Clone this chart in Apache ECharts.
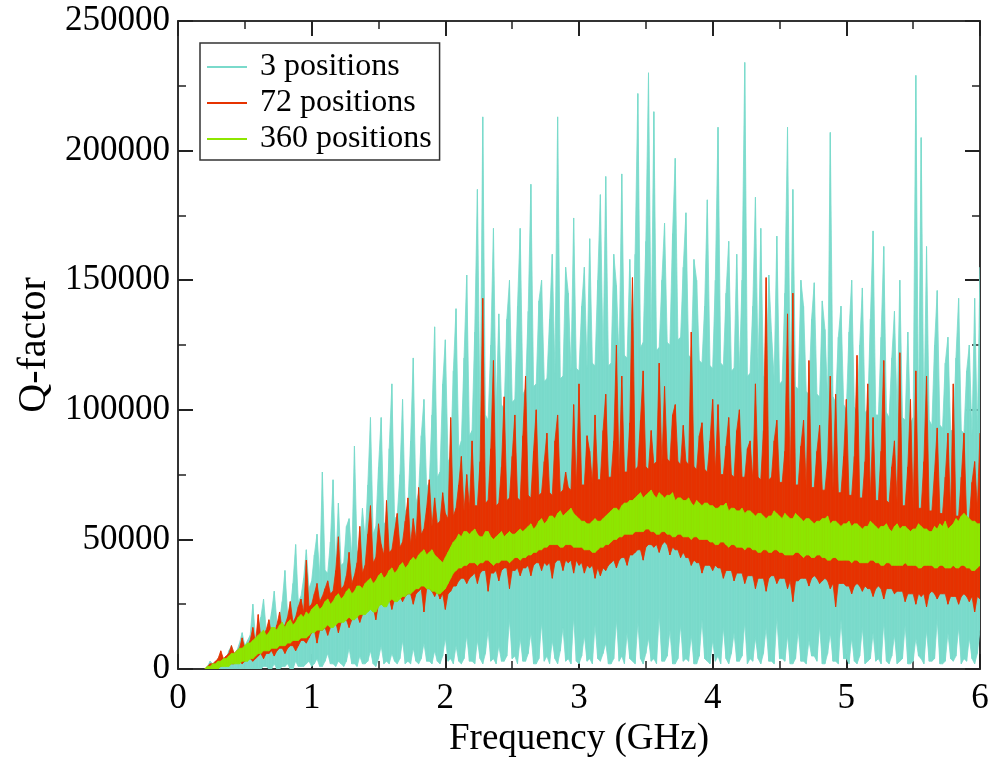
<!DOCTYPE html>
<html><head><meta charset="utf-8">
<script src="https://cdn.jsdelivr.net/npm/echarts@6.0.0/dist/echarts.min.js"></script>
<style>html,body{margin:0;padding:0;background:#fff}#c{width:999px;height:757px}</style>
</head><body><div id="c"></div>
<script>
// Frequency sampling grid (GHz): 0.20 .. 6.00, one sample every 0.02 GHz (20 samples per row below)
const freqStartGHz = 0.2;
const freqStepGHz = 0.02;

// Q-factor values, in thousands.
// "Hi" = upper edge of the trace (peaks / top of the dense core), "Lo" = lower edge of the trace.
const tqHi = [ // 3 positions
  0,1,3,2,2,4,6,4,4,7,9,6,7,10,14,9,11,13,25,12,
  14,20,27,15,16,22,30,18,19,26,38,21,23,33,48,26,28,35,46,31,
  34,44,52,36,76,38,37,49,73,39,64,40,41,55,58,43,86,45,47,62,
  50,71,97,52,55,78,97,56,57,85,110,58,59,75,104,61,62,88,120,64,
  68,90,104,70,72,98,132,74,76,110,127,80,82,115,139,85,88,120,152,90,
  92,130,185,94,213,98,96,125,170,99,137,102,100,135,150,103,104,140,170,106,
  108,138,187,109,110,142,150,111,112,135,160,114,213,112,113,155,145,115,174,116,
  115,140,155,116,166,118,117,150,183,119,190,117,118,160,148,119,191,121,120,158,
  122,160,222,124,126,165,230,125,215,123,124,150,172,126,125,168,197,127,128,155,
  176,121,120,158,150,119,118,140,181,117,116,150,209,118,117,145,165,115,116,160,
  115,150,234,113,114,140,182,115,170,113,112,152,130,112,167,110,111,145,209,110,
  185,109,108,150,140,107,106,135,149,106,105,142,131,104,207,105,103,128,140,102,
  100,130,150,101,99,125,147,99,100,135,169,98,98,128,163,99,97,120,138,98,
  150,97,96,130,95,97,229,96,205,95,163,96,94,125,146,94,93,118,128,92,
  92,120,143,92,91,115,125,90,143,91,155
];
const tqLo = [
  0,0,0,0,0,0,0,0,0,0,0,0,0,0,0,0,0,0,0,0,
  0,0,1,1,0,0,2,0,0,1,1,2,0,0,3,1,1,1,2,3,
  1,2,4,1,1,3,6,2,2,1,3,2,1,3,8,2,2,1,5,2,
  2,3,7,2,1,4,9,2,3,2,6,3,2,4,11,2,3,2,8,3,
  2,4,10,3,3,2,7,3,2,5,12,3,4,2,9,3,2,4,13,3,
  3,2,11,4,2,6,15,3,4,2,9,3,3,5,19,4,5,2,12,3,
  3,6,14,2,2,4,18,3,5,2,11,4,2,7,16,3,4,2,20,3,
  2,5,13,3,4,2,17,4,3,6,10,2,2,4,19,3,5,2,14,4,
  3,2,18,4,2,6,12,3,4,2,21,3,3,5,15,2,2,4,17,3,
  4,3,13,2,2,5,19,4,3,2,11,3,5,2,16,4,2,6,14,3,
  3,5,18,2,4,3,12,4,2,6,16,3,3,2,20,4,4,3,13,2,
  2,4,15,3,3,2,11,5,5,3,17,2,2,6,14,3,3,2,19,4,
  4,2,12,3,2,5,16,2,3,4,14,3,4,2,18,3,2,5,13,2,
  3,4,17,2,2,3,12,5,4,2,15,3,3,4,19,2,2,3,14,4,
  3,5,16,2,4,3,12,4,2,6,15
];
const rdHi = [ // 72 positions
  0,1,2,2,3,4,7,4,5,6,9,6,7,8,12,8,9,11,16,10,
  21,12,12,15,19,13,14,17,22,15,17,20,26,18,20,24,27,22,42,24,
  25,29,33,26,28,31,34,29,30,38,51,31,32,36,45,33,36,41,55,37,
  40,52,63,41,43,56,48,44,65,45,46,53,60,47,49,57,66,48,58,50,
  70,52,54,62,73,55,66,56,57,68,60,58,97,59,62,71,82,61,75,62,
  88,63,63,80,143,64,65,85,119,63,64,78,105,65,66,82,98,66,65,90,
  113,67,66,84,100,67,68,80,91,68,67,88,98,68,69,76,70,69,102,70,
  110,71,71,90,84,72,98,73,73,92,106,74,74,88,125,75,113,76,76,95,
  151,77,78,96,115,78,77,92,79,80,118,79,109,81,80,98,102,80,79,94,
  80,79,130,78,77,90,95,77,76,88,104,76,102,75,75,86,97,75,74,92,
  100,74,74,85,88,73,110,74,73,92,151,73,74,88,96,72,72,84,137,72,
  145,71,71,86,96,70,119,70,70,84,94,69,69,80,113,69,106,68,68,82,
  104,67,67,82,121,66,66,80,110,66,97,65,65,84,119,65,64,78,88,64,
  122,63,63,78,104,62,115,62,62,80,113,61,61,76,93,60,60,74,91,60,
  110,59,59,74,91,58,58,72,80,62,91
];
const rdLo = [
  0,0,0,1,1,1,1,2,2,2,2,2,3,3,2,3,4,4,3,4,
  5,6,4,6,6,7,5,7,8,8,6,8,9,9,7,9,11,11,10,12,
  14,15,10,15,15,16,13,16,17,18,14,18,19,19,16,19,20,21,18,21,
  22,23,24,24,19,25,25,26,27,27,23,27,28,28,26,28,29,29,25,29,
  30,31,22,31,31,30,28,30,27,29,23,29,30,32,32,34,35,35,33,35,
  36,37,33,37,38,38,30,37,37,38,34,38,39,39,31,38,38,39,36,39,
  39,40,36,40,41,41,38,41,40,41,35,41,42,42,38,42,41,42,37,42,
  40,41,37,40,39,40,35,39,36,39,38,40,41,42,39,42,43,43,40,44,
  44,45,46,46,42,47,48,48,47,48,45,48,49,48,44,47,46,46,43,45,
  43,43,40,42,41,41,37,40,40,40,38,40,39,39,35,38,38,38,34,37,
  37,37,33,36,36,36,31,35,35,35,30,35,36,36,33,35,35,35,31,34,
  26,34,34,35,35,35,32,35,36,35,33,34,35,34,31,33,24,33,33,33,
  32,32,29,32,33,32,30,32,31,31,28,31,32,31,27,31,31,31,29,30,
  30,30,26,29,29,29,25,29,28,29,24,29,30,29,27,29,29,29,25,28,
  28,28,25,28,29,28,26,28,22,28,27
];
const grHi = [ // 360 positions
  0,1,1,2,2,3,3,4,4,5,6,6,7,8,8,9,10,10,11,12,
  13,14,15,13,14,16,16,15,17,18,16,18,19,17,18,20,21,20,22,21,
  23,24,25,23,24,26,27,25,26,28,29,27,28,30,31,29,30,32,32,31,
  33,34,35,33,34,36,37,35,36,38,39,37,38,40,41,39,40,42,43,42,
  44,45,46,44,45,46,44,43,42,41,43,45,47,49,50,52,51,53,53,52,
  53,54,52,51,51,53,53,51,50,51,52,53,51,52,53,52,52,53,54,53,
  54,55,56,54,55,57,58,56,57,59,59,58,60,61,59,60,61,62,60,59,
  58,57,57,56,56,57,58,57,57,58,59,60,61,62,62,61,63,64,64,65,
  65,66,67,68,66,67,68,69,67,66,68,67,66,67,67,68,65,66,66,65,
  65,66,64,63,65,64,63,64,64,63,63,62,62,63,63,64,61,62,62,61,
  61,62,60,61,61,60,59,60,60,59,58,59,59,61,60,59,58,60,59,58,
  58,60,59,58,57,58,58,57,56,57,57,58,58,59,56,57,57,56,55,56,
  56,57,55,56,56,55,54,55,55,57,56,55,54,55,55,56,54,53,55,56,
  54,55,55,54,53,54,54,56,55,54,54,53,53,55,54,56,55,57,54,55,
  56,58,57,59,60,59,58,57,57,56,56
];
const grLo = [
  0,0,0,0,0,0,1,1,1,1,2,2,2,2,3,3,3,4,4,5,
  6,6,7,7,7,8,8,8,9,9,9,10,10,11,11,11,12,12,12,13,
  14,14,15,15,15,16,17,16,16,17,18,18,18,19,20,19,19,20,21,21,
  21,22,23,22,22,24,25,24,24,26,27,26,26,27,28,28,29,29,30,31,
  31,32,32,31,31,30,30,29,29,30,31,33,35,37,38,39,39,40,40,41,
  41,41,40,41,41,42,42,41,40,41,41,42,42,42,41,42,43,43,42,43,
  43,44,44,45,45,46,46,47,47,48,48,48,48,47,47,48,48,48,47,47,
  47,47,46,46,46,45,45,46,47,47,48,48,49,50,50,51,51,52,52,52,
  52,53,53,53,53,54,54,53,53,52,52,53,53,52,52,51,51,52,52,51,
  51,51,50,51,51,50,50,50,50,49,49,48,48,49,49,48,47,48,48,47,
  47,47,46,47,47,46,46,45,45,46,46,45,45,46,46,45,45,44,44,44,
  44,45,45,44,43,44,44,43,43,44,44,43,43,42,42,43,43,42,42,42,
  42,42,41,42,42,41,41,41,41,42,42,41,41,40,40,41,41,40,40,40,
  40,40,41,40,40,40,40,39,39,40,40,40,40,39,39,40,40,39,39,39,
  40,39,39,40,40,39,39,38,38,39,40
];

const seriesNames = ['3 positions', '72 positions', '360 positions'];
const seriesColors = ['#7adacb', '#e63200', '#8ee600'];
const xMin = 0, xMax = 6, xInterval = 1;
const yMin = 0, yMax = 250000, yInterval = 50000;
const valueScale = 1000;

const nSamples = Math.min(tqHi.length, tqLo.length, rdHi.length, rdLo.length, grHi.length, grLo.length);
const freqGHz = [];
for (let i = 0; i < nSamples; i++) freqGHz.push(Math.round((freqStartGHz + i * freqStepGHz) * 100) / 100);

// Each trace is drawn as the region between its lower and upper edge, segment by segment,
// with the library's coordinate system converting data values to pixels.
function bandSeries(name, lo, hi, color) {
  const data = freqGHz.map((f, i) => [f, lo[i] * valueScale, hi[i] * valueScale]);
  return {
    name: name, type: 'custom', data: data, color: color, itemStyle: { color: color },
    encode: { x: 0, y: [1, 2] }, animation: false, silent: true, clip: true,
    renderItem: function (params, api) {
      const i = params.dataIndex;
      if (i >= data.length - 1) return null;
      const a = data[i], b = data[i + 1];
      const pts = [api.coord([a[0], a[1]]), api.coord([b[0], b[1]]),
                   api.coord([b[0], b[2]]), api.coord([a[0], a[2]])];
      return { type: 'polygon', shape: { points: pts },
               style: { fill: color, stroke: color, lineWidth: 0.8 } };
    }
  };
}

const font = 'Liberation Serif';
const axisBase = {
  type: 'value', splitLine: { show: false }, minorSplitLine: { show: false },
  axisLine: { show: true, onZero: false, lineStyle: { color: '#333', width: 2 } },
  axisTick: { show: true, inside: true, length: 15, lineStyle: { color: '#222', width: 2 } },
  minorTick: { show: true, splitNumber: 2, length: 8, lineStyle: { color: '#222', width: 1.5 } }
};

const chart = echarts.init(document.getElementById('c'), null, { renderer: 'canvas' });
chart.setOption({
  animation: false,
  backgroundColor: '#fff',
  grid: { left: 178, right: 19, top: 21, bottom: 88, containLabel: false, outerBoundsMode: 'none' },
  legend: {
    data: seriesNames, orient: 'vertical', left: 200, top: 43,
    icon: 'rect', itemWidth: 40, itemHeight: 2, itemGap: 4,
    padding: [8, 8, 5, 7], borderColor: '#333', borderWidth: 1.5, backgroundColor: '#fff',
    textStyle: { fontFamily: font, fontSize: 32, color: '#000', padding: [0, 0, 0, 8] },
    selectedMode: false
  },
  xAxis: [
    Object.assign({}, axisBase, {
      position: 'bottom', min: xMin, max: xMax, interval: xInterval,
      axisLabel: { fontFamily: font, fontSize: 35, color: '#000', margin: 12 },
      name: 'Frequency (GHz)', nameLocation: 'middle', nameGap: 50,
      nameTextStyle: { fontFamily: font, fontSize: 37, color: '#000' }
    }),
    Object.assign({}, axisBase, {
      position: 'top', min: xMin, max: xMax, interval: xInterval, axisLabel: { show: false }
    })
  ],
  yAxis: [
    Object.assign({}, axisBase, {
      position: 'left', min: yMin, max: yMax, interval: yInterval,
      axisLabel: { fontFamily: font, fontSize: 35, color: '#000', margin: 8, formatter: v => String(v) },
      name: 'Q-factor', nameLocation: 'middle', nameGap: 111,
      nameTextStyle: { fontFamily: font, fontSize: 40, color: '#000' }
    }),
    Object.assign({}, axisBase, {
      position: 'right', min: yMin, max: yMax, interval: yInterval, axisLabel: { show: false }
    })
  ],
  series: [
    bandSeries(seriesNames[0], tqLo, tqHi, seriesColors[0]),
    bandSeries(seriesNames[1], rdLo, rdHi, seriesColors[1]),
    bandSeries(seriesNames[2], grLo, grHi, seriesColors[2])
  ]
});
</script>
</body></html>
